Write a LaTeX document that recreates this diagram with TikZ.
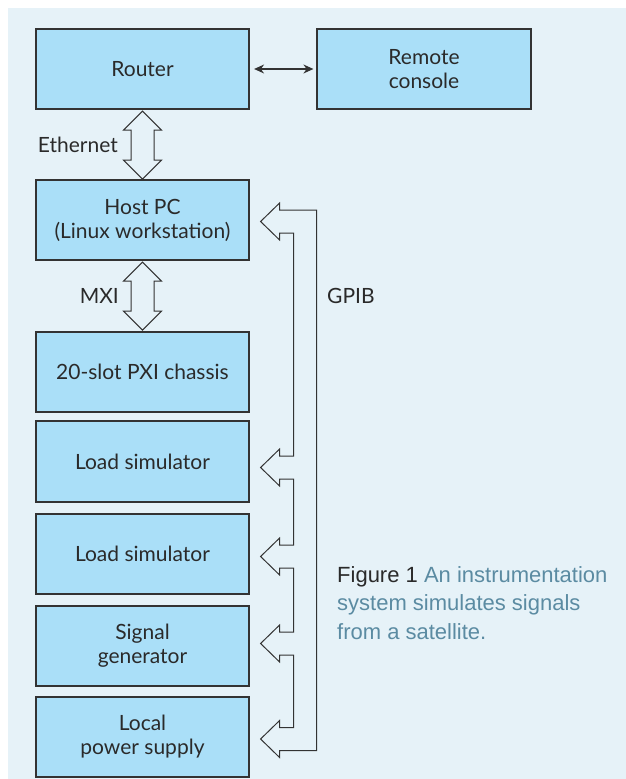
\documentclass[tikz,border=0pt]{standalone}
\usepackage{fontspec}
\setmainfont{Lato}
\newfontfamily\capfont{Liberation Sans}
\usetikzlibrary{calc,arrows.meta}
\definecolor{bgblue}{HTML}{E6F2F8}
\definecolor{boxblue}{HTML}{AADFF8}
\definecolor{edgegray}{HTML}{333333}
\definecolor{txtgray}{HTML}{2A2A2A}
\definecolor{capblue}{HTML}{5B8BA2}
\begin{document}
\begin{tikzpicture}[x=1pt,y=-1pt,
  blk/.style={draw=edgegray, line width=1.2pt, fill=boxblue, minimum width=213pt,
    minimum height=80pt, inner sep=0pt, align=center,
    font=\fontsize{21}{24}\selectfont, text=txtgray},
  fat/.style={draw=edgegray, line width=1pt, fill=bgblue, line join=miter},
  lbl/.style={font=\fontsize{21}{24}\selectfont, text=txtgray, inner sep=0pt}]
\useasboundingbox (0,0) rectangle (626,779);
\fill[bgblue] (8,8) rectangle (626,779);
% boxes
\node[blk] (router) at (142.5,69) {Router};
\node[blk, minimum width=214pt] (remote) at (424,69) {Remote\\console};
\node[blk] (host) at (142.5,220) {Host PC\\(Linux workstation)};
\node[blk] (pxi) at (142.5,372) {20-slot PXI chassis};
\node[blk, minimum height=81pt] (ls1) at (142.5,461.5) {Load simulator};
\node[blk] (ls2) at (142.5,554) {Load simulator};
\node[blk] (sg) at (142.5,646) {Signal\\generator};
\node[blk] (lps) at (142.5,737) {Local\\power supply};
% router <-> remote
\draw[{Stealth[length=10pt,width=9pt]}-{Stealth[length=10pt,width=9pt]}, line width=1.2pt, edgegray]
  ($(router.east)+(4.5,0)$) -- ($(remote.west)+(-3,0)$);
% Ethernet fat arrow
\draw[fat] ($(router.south)+(0,1.5)$) -- ++(19,19) -- ++(-7.5,0) -- ++(0,30) -- ++(7.5,0)
  -- ++(-19,19) -- ++(-19,-19) -- ++(7.5,0) -- ++(0,-30) -- ++(-7.5,0) -- cycle;
% MXI fat arrow
\draw[fat] ($(host.south)+(0,1.5)$) -- ++(19,19) -- ++(-7.5,0) -- ++(0,30) -- ++(7.5,0)
  -- ++(-19,19) -- ++(-19,-19) -- ++(7.5,0) -- ++(0,-30) -- ++(-7.5,0) -- cycle;
% GPIB bus
\coordinate (t0) at ($(host.east)+(11,1.5)$);
\coordinate (t1) at ($(ls1.east)+(11,6)$);
\coordinate (t2) at ($(ls2.east)+(11,2.5)$);
\coordinate (t3) at ($(sg.east)+(11,-2.5)$);
\coordinate (t4) at ($(lps.east)+(11,2)$);
\draw[fat] (t0) -- ($(t0)+(19,-18.5)$) -- ($(t0)+(19,-11.5)$) -- ($(t0)+(56,-11.5)$)
  -- ($(t4)+(56,11.5)$) -- ($(t4)+(19,11.5)$) -- ($(t4)+(19,18.5)$) -- (t4)
  -- ($(t4)+(19,-18.5)$) -- ($(t4)+(19,-11.5)$) -- ($(t4)+(33,-11.5)$)
  -- ($(t3)+(33,11.5)$) -- ($(t3)+(19,11.5)$) -- ($(t3)+(19,18.5)$) -- (t3)
  -- ($(t3)+(19,-18.5)$) -- ($(t3)+(19,-11.5)$) -- ($(t3)+(33,-11.5)$)
  -- ($(t2)+(33,11.5)$) -- ($(t2)+(19,11.5)$) -- ($(t2)+(19,18.5)$) -- (t2)
  -- ($(t2)+(19,-18.5)$) -- ($(t2)+(19,-11.5)$) -- ($(t2)+(33,-11.5)$)
  -- ($(t1)+(33,11.5)$) -- ($(t1)+(19,11.5)$) -- ($(t1)+(19,18.5)$) -- (t1)
  -- ($(t1)+(19,-18.5)$) -- ($(t1)+(19,-11.5)$) -- ($(t1)+(33,-11.5)$)
  -- ($(t0)+(33,11.5)$) -- ($(t0)+(19,11.5)$) -- ($(t0)+(19,18.5)$) -- cycle;
% labels
\node[lbl, anchor=base east] (eth) at (118,152) {Ethernet};
\node[lbl, anchor=base east] (mxi) at (119,303) {MXI};
\node[lbl, anchor=base west] (gpib) at (327,303) {GPIB};
% caption
\node[anchor=north west, align=left, inner sep=0pt, text=capblue,
  font=\capfont\fontsize{22}{28.5}\selectfont] (cap) at (337,566)
  {\textcolor{txtgray}{Figure 1} An instrumentation\\system simulates signals\\from a satellite.};
\end{tikzpicture}
\end{document}
